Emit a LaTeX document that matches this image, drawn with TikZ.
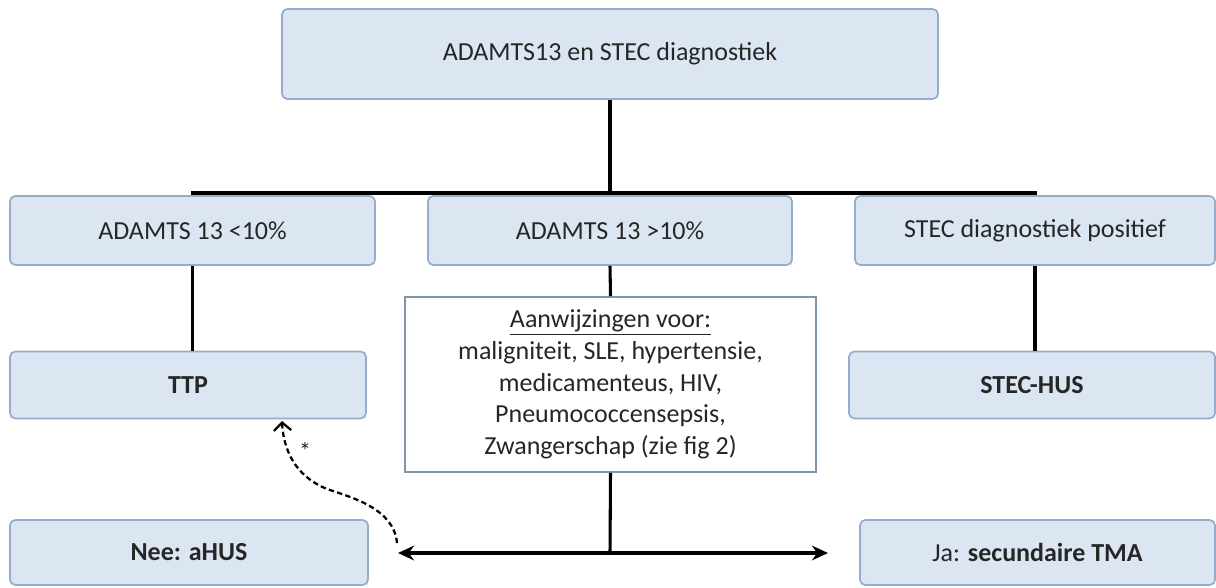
\documentclass[tikz,border=0pt]{standalone}
\usepackage{fontspec}
\setmainfont{Carlito}
\usetikzlibrary{arrows.meta}

\definecolor{boxfill}{RGB}{220,230,242}
\definecolor{boxline}{RGB}{150,172,205}
\definecolor{plainline}{RGB}{130,148,168}
\definecolor{txt}{RGB}{38,38,38}

\tikzset{every picture/.style={line width=0.75pt}}
\tikzset{
  bluebox/.style={draw=boxline, fill=boxfill, line width=1.3pt, rounded corners=4pt,
    text=txt, font=\fontsize{19.5}{23.7}\selectfont, inner sep=0pt, align=center},
  notebox/.style={draw=plainline, fill=white, line width=1.3pt,
    text=txt, font=\fontsize{19.5}{23.8}\selectfont, inner sep=0pt, align=center},
  link/.style={line width=2.3pt, black},
  tip/.style={-{Stealth[length=12pt,width=11pt]}},
}

\begin{document}
\begin{tikzpicture}[x=0.75pt,y=0.75pt,yscale=-1,xscale=1]
\useasboundingbox (0,0) rectangle (1216,588);

% Text Node
\node [bluebox, minimum width=492pt, minimum height=67.5pt] (top) at (610,54) {ADAMTS13 en STEC diagnostiek};
% Text Node
\node [bluebox, minimum width=273.75pt, minimum height=51.75pt] (low) at (192.5,230.5) {ADAMTS 13 <10\%};
% Text Node
\node [bluebox, minimum width=273pt, minimum height=51.75pt] (high) at (610,230.5) {ADAMTS 13 >10\%};
% Text Node
\node [bluebox, minimum width=270pt, minimum height=51.75pt] (stec) at (1035,230.5) {STEC diagnostiek positief};
% Text Node
\node [bluebox, minimum width=267pt, minimum height=50.25pt] (ttp) at (188,385) {\textbf{TTP}};
% Text Node
\node [bluebox, minimum width=274.5pt, minimum height=50.25pt] (hus) at (1032,385) {\textbf{STEC-HUS}};
% Text Node
\node [notebox, minimum width=308.25pt, minimum height=131.25pt] (hint) at (610.5,384.5)
  {\underline{Aanwijzingen voor:}\\ maligniteit, SLE, hypertensie,\\ medicamenteus, HIV,\\ Pneumococcensepsis,\\ Zwangerschap (zie fig 2)};
% Text Node
\node [bluebox, minimum width=268.5pt, minimum height=48.75pt] (nee) at (189,552.5) {\textbf{Nee: aHUS}};
% Text Node
\node [bluebox, minimum width=266.25pt, minimum height=48.75pt] (ja) at (1037.5,552.5) {Ja: \textbf{secundaire TMA}};

% Connection
\coordinate (split) at (610,193);
\draw [link] (top.south) -- (split);
\draw [link] (low.north) |- (split) -| (stec.north);
\draw [link] (split) -- (high.north);
% Connection
\draw [link] (low.south) -- (low.south |- ttp.north);
\draw [link] (stec.south) -- (stec.south |- hus.north);
\draw [link] (high.south) -- (hint.north);
% Connection
\coordinate (fork) at (610,553);
\coordinate (toleft) at (398,553);
\coordinate (toright) at (828,553);
\draw [link] (hint.south) -- (fork);
\draw [link, tip] (fork) -- (toleft);
\draw [link, tip] (fork) -- (toright);
% Connection
\coordinate (back) at (397,543);
\coordinate (ttptip) at (282,421);
\draw [line width=1.7pt, dash pattern=on 4pt off 2.5pt, -{Straight Barb[length=6pt,width=13pt]}]
  (back) .. controls (394,508) and (350,497) .. (327,489) .. controls (302,479) and (284,458) .. (ttptip);
\node [text=txt, font=\fontsize{18}{20}\selectfont, inner sep=0pt] (star) at (305,451) {*};

\end{tikzpicture}
\end{document}
